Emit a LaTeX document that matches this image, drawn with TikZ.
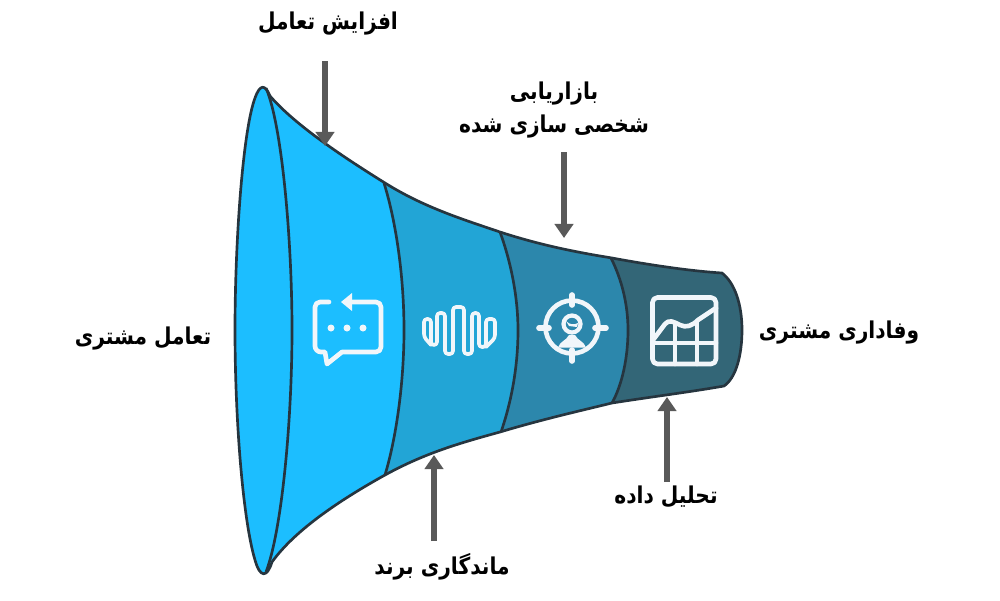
\documentclass[tikz,border=0pt]{standalone}
\usepackage{fontspec}
\usetikzlibrary{arrows.meta}
\TeXXeTstate=1
\newfontfamily\arabicfont[Script=Arabic, FakeStretch=0.87]{DejaVu Sans}
\definecolor{segA}{HTML}{1CBEFF}
\definecolor{segB}{HTML}{22A5D6}
\definecolor{segC}{HTML}{2C87AC}
\definecolor{segD}{HTML}{336677}
\definecolor{rim}{HTML}{26353F}
\definecolor{flowgray}{HTML}{595959}
\definecolor{icon}{HTML}{F1F6FA}
\tikzset{
  caption/.style={font=\arabicfont\bfseries\fontsize{16.5}{24}\selectfont, text=black, align=center, inner sep=0pt},
  flow/.style={draw=flowgray, line width=3.6pt, -{Triangle[length=10pt, width=13pt]}},
  rimline/.style={draw=rim, line width=1.9pt, line join=round},
  glyph/.style={draw=icon, line width=3.3pt, line cap=round, line join=round}
}
\newcommand{\funnelpath}{(270,96) .. controls (296,126) and (345,158) .. (385,183)
  .. controls (425,208) and (465,220) .. (500,232)
  .. controls (540,245) and (575,252) .. (612,258)
  .. controls (650,265) and (690,271) .. (722,273)
  .. controls (735,283) and (742,305) .. (742,330)
  .. controls (742,355) and (736,378) .. (724,386)
  .. controls (690,392) and (650,397) .. (612,403)
  .. controls (575,412) and (540,420) .. (500,432)
  .. controls (460,443) and (425,453) .. (385,475)
  .. controls (340,500) and (295,530) .. (272,562)
  .. controls (267,578) and (260,578) .. (255,560)
  .. controls (243,520) and (235,420) .. (235,330)
  .. controls (235,240) and (243,130) .. (255,98)
  .. controls (260,84) and (265,84) .. (270,96) -- cycle}
\newcommand{\edgeB}{(384,183) .. controls (397,225) and (404,280) .. (404,330) .. controls (404,380) and (397,435) .. (385,475)}
\newcommand{\edgeC}{(500,232) .. controls (512,265) and (518,300) .. (518,330) .. controls (518,365) and (512,400) .. (501,432)}
\newcommand{\edgeD}{(611,258) .. controls (622,280) and (628,305) .. (628,330) .. controls (628,358) and (622,385) .. (612,403)}
\begin{document}
\begin{tikzpicture}[x=0.025cm, y=-0.025cm]
  \useasboundingbox (0, 0) rectangle (1000, 600);
  \begin{scope}
    \clip \funnelpath;
    \fill [segD] (200, 50) rectangle (760, 600);
    \fill [segC] (200, 50) -- (611, 50) -- \edgeD -- (612, 600) -- (200, 600) -- cycle;
    \fill [segB] (200, 50) -- (500, 50) -- \edgeC -- (501, 600) -- (200, 600) -- cycle;
    \fill [segA] (200, 50) -- (384, 50) -- \edgeB -- (385, 600) -- (200, 600) -- cycle;
  \end{scope}
  \draw [rimline] \funnelpath;
  \draw [rimline] (266, 88) .. controls (282, 125) and (292, 240) .. (292, 330) .. controls (292, 420) and (282, 530) .. (266, 572);
  \draw [rimline] \edgeB;
  \draw [rimline] \edgeC;
  \draw [rimline] \edgeD;

  % chat
  \draw [glyph] (329, 302) -- (320, 302) to [out=180, in=90] (315, 307) -- (315, 346) to [out=-90, in=180] (321, 352) -- (325, 352) -- (327, 364) -- (342, 352) -- (376, 352) to [out=0, in=-90] (381, 347) -- (381, 307) to [out=90, in=0] (376, 302) -- (349, 302);
  \fill [icon] (341, 302) -- (352, 293) -- (352, 311) -- cycle;
  \foreach \dotx in {331, 347, 363}
    \fill [icon] (\dotx, 328) circle (3.5);

  % wave
  \draw [glyph, line width=2.6pt, rounded corners=2.2pt] (431, 345) -- (424, 337) -- (424, 319) -- (431, 319) -- (431, 345) -- (437, 345) -- (437, 313) -- (445, 313) -- (445, 354) -- (453, 354) -- (453, 307) -- (464, 307) -- (464, 354) -- (472, 354) -- (472, 313) -- (479, 313) -- (479, 347) -- (486, 347) -- (486, 319) -- (495, 319) -- (495, 338) -- (486, 347);

  % target
  \draw [glyph] (572, 327) circle (26.5);
  \draw [glyph, line width=4pt] (572, 295) -- (572, 305);
  \draw [glyph, line width=4pt] (572, 350) -- (572, 361);
  \draw [glyph, line width=4pt] (539, 328) -- (549, 328);
  \draw [glyph, line width=4pt] (595, 328) -- (606, 328);
  \draw [glyph, line width=3pt] (572, 324) circle (8.5);
  \fill [icon] (558, 347.5) .. controls (560, 341) and (566, 341) .. (569, 335) -- (575, 335) .. controls (578, 341) and (584, 341) .. (586, 347.5) -- cycle;
  \fill [icon] (566, 321) .. controls (570, 325) and (574, 325) .. (578, 323) -- (577, 327) -- (569, 326) -- cycle;

  % chart
  \draw [glyph, rounded corners=3.5pt] (652.5, 297.5) rectangle (716, 364);
  \draw [glyph] (652.5, 343) -- (716, 343);
  \draw [glyph] (675, 324) -- (675, 364);
  \draw [glyph] (697, 322) -- (697, 364);
  \draw [glyph] (653, 340) -- (665, 324) .. controls (669, 319) and (674, 322) .. (680, 325) .. controls (686, 328) and (692, 326) .. (698, 320) -- (716, 308);

  \node [caption] (lblRaise) at (328, 24) {\beginR افزایش تعامل\endR};
  \node [caption] (lblPersonal) at (554, 110) {\beginR بازاریابی\endR\\\beginR شخصی سازی شده\endR};
  \node [caption] (lblEngage) at (143, 339) {\beginR تعامل مشتری\endR};
  \node [caption] (lblLoyal) at (839, 333) {\beginR وفاداری مشتری\endR};
  \node [caption] (lblRetain) at (442, 567) {\beginR ماندگاری برند\endR};
  \node [caption] (lblData) at (666, 497) {\beginR تحلیل داده\endR};

  \coordinate (raiseTail) at (325, 61);
  \coordinate (raiseTip) at (325, 146);
  \coordinate (personalTail) at (564, 152);
  \coordinate (personalTip) at (564, 238);
  \coordinate (retainTail) at (434, 541);
  \coordinate (retainTip) at (434, 455);
  \coordinate (dataTail) at (667, 482);
  \coordinate (dataTip) at (667, 397);
  \draw [flow] (raiseTail) -- (raiseTip);
  \draw [flow] (personalTail) -- (personalTip);
  \draw [flow] (retainTail) -- (retainTip);
  \draw [flow] (dataTail) -- (dataTip);
\end{tikzpicture}
\end{document}
